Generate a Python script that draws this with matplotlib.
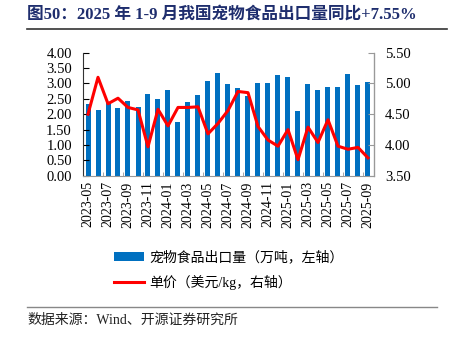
import numpy as np
import matplotlib
matplotlib.use('Agg')
import matplotlib.pyplot as plt
from matplotlib.lines import Line2D

plt.rcParams['font.family'] = ['Liberation Serif', 'Noto Sans CJK SC']

# months 2023-05 .. 2025-09
months = ['2023-05', '2023-06', '2023-07', '2023-08', '2023-09', '2023-10', '2023-11', '2023-12',
          '2024-01', '2024-02', '2024-03', '2024-04', '2024-05', '2024-06', '2024-07', '2024-08',
          '2024-09', '2024-10', '2024-11', '2024-12', '2025-01', '2025-02', '2025-03', '2025-04',
          '2025-05', '2025-06', '2025-07', '2025-08', '2025-09']
volume = [2.34, 2.13, 2.39, 2.19, 2.44, 2.23, 2.65, 2.50, 2.80, 1.74, 2.39, 2.61, 3.07, 3.35, 2.97,
          2.86, 2.58, 3.00, 3.02, 3.27, 3.21, 2.09, 2.97, 2.79, 2.90, 2.88, 3.32, 2.96, 3.06]
price = [4.50, 5.10, 4.67, 4.76, 4.61, 4.57, 3.97, 4.58, 4.31, 4.61, 4.61, 4.62, 4.18, 4.35, 4.56,
         4.87, 4.85, 4.30, 4.08, 3.98, 4.25, 3.76, 4.29, 4.04, 4.41, 3.98, 3.93, 3.96, 3.79]

title = '图50：2025 年 1-9 月我国宠物食品出口量同比+7.55%'
bar_label = '宠物食品出口量（万吨，左轴）'
line_label = '单价（美元/kg，右轴）'
source = '数据来源：Wind、开源证券研究所'

W, H = 450, 350
fig = plt.figure(figsize=(4.5, 3.5), dpi=100)

x = np.arange(len(months))
ax = fig.add_axes([83 / W, 1 - 175.7 / H, (374 - 83) / W, (175.7 - 52.7) / H])
bars = ax.bar(x, volume, width=0.5, color='#0070C0', label=bar_label)
ax.set_ylim(0, 4)
ax.set_yticks(np.arange(0, 4.01, 0.5))
ax.set_yticklabels(['%.2f' % v for v in np.arange(0, 4.01, 0.5)])
ax.set_xlim(-0.5, 28.6)
ax.set_xticks(x[::2])
ax.set_xticklabels(months[::2], rotation=90)
ax.set_xticks(np.arange(1.5, 28, 2), minor=True)
ax.tick_params(axis='x', which='major', length=0, pad=4, labelsize=10)
ax.tick_params(axis='x', which='minor', length=3, direction='in', color='#999999')
ax.tick_params(axis='y', direction='in', length=4, labelsize=10.5, pad=8)

ax2 = ax.twinx()
ln, = ax2.plot(x, price, color='#FF0000', lw=2.2, label=line_label)
ax2.set_ylim(3.5, 5.5)
ax2.set_yticks(np.arange(3.5, 5.51, 0.5))
ax2.set_yticklabels(['%.2f' % v for v in np.arange(3.5, 5.51, 0.5)])
ax2.tick_params(axis='y', direction='in', length=4, labelsize=10.5, pad=8, color='#999999')

for a in (ax, ax2):
    a.spines['top'].set_visible(False)
ax.spines['left'].set_color('#333333')
ax.spines['bottom'].set_color('#999999')
ax2.spines['left'].set_visible(False)
ax2.spines['bottom'].set_visible(False)
ax2.spines['right'].set_color('#999999')

fig.legend([bars, ln], [bar_label, line_label], loc='upper left',
           bbox_to_anchor=(101 / W, 1 - 238 / H), frameon=False,
           handlelength=2.2, handletextpad=0.4, labelspacing=0.75,
           prop={'family': ['Liberation Serif', 'Noto Sans CJK SC'], 'size': 10})

fig.text(27 / W, 1 - 15 / H, title, fontsize=12, fontweight='bold', color='#1F2E6E', va='center')
fig.add_artist(Line2D([27 / W, 447 / W], [1 - 29 / H] * 2, color='#333333', lw=1.2))
fig.add_artist(Line2D([27 / W, 437 / W], [1 - 306.7 / H] * 2, color='#888888', lw=1))
fig.text(27 / W, 1 - 320 / H, source, fontsize=10, color='#222222', va='center')

fig.savefig('out.png', dpi=100)
